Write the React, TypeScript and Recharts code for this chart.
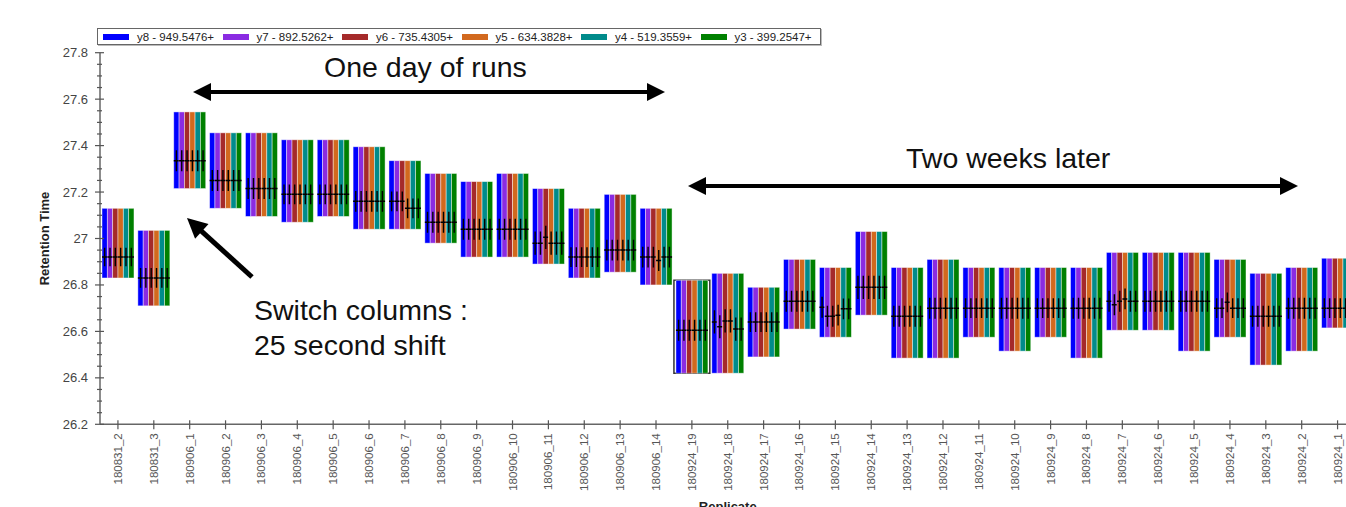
import { BarChart, Bar, XAxis, YAxis, ReferenceArea } from "recharts";

const FONT = "Arial, 'Liberation Sans', sans-serif";

// Replicate names, in acquisition order as plotted.
const replicates = [
  "180831_2", "180831_3",
  "180906_1", "180906_2", "180906_3", "180906_4", "180906_5", "180906_6", "180906_7",
  "180906_8", "180906_9", "180906_10", "180906_11", "180906_12", "180906_13", "180906_14",
  "180924_19", "180924_18", "180924_17", "180924_16", "180924_15", "180924_14", "180924_13",
  "180924_12", "180924_11", "180924_10", "180924_9", "180924_8", "180924_7", "180924_6",
  "180924_5", "180924_4", "180924_3", "180924_2", "180924_1",
];

// Integration boundaries (min) shared by all transitions of a replicate.
const peakStart = [
  26.83, 26.71, 27.215, 27.13, 27.095, 27.07, 27.095, 27.04, 27.04, 26.98, 26.92, 26.92,
  26.89, 26.83, 26.855, 26.8, 26.42, 26.42, 26.49, 26.61, 26.575, 26.67, 26.485, 26.485,
  26.575, 26.515, 26.575, 26.485, 26.605, 26.605, 26.515, 26.575, 26.455, 26.515, 26.615,
];
const peakEnd = [
  27.13, 27.035, 27.545, 27.455, 27.455, 27.425, 27.425, 27.395, 27.335, 27.28, 27.245, 27.28,
  27.215, 27.13, 27.19, 27.13, 26.82, 26.85, 26.79, 26.91, 26.875, 27.03, 26.875, 26.91,
  26.875, 26.875, 26.875, 26.875, 26.94, 26.94, 26.94, 26.91, 26.85, 26.875, 26.915,
];
// Full width at half max, drawn as the whisker through each apex.
const fwhm = [
  0.08, 0.085, 0.09, 0.09, 0.09, 0.085, 0.085, 0.09, 0.085, 0.09, 0.09, 0.09,
  0.1, 0.085, 0.09, 0.09, 0.09, 0.1, 0.085, 0.09, 0.09, 0.1, 0.09, 0.09,
  0.085, 0.09, 0.085, 0.09, 0.09, 0.09, 0.09, 0.085, 0.09, 0.09, 0.085,
];

// Apex retention time per transition.
const apexY8 = [
  26.92, 26.83, 27.335, 27.25, 27.215, 27.19, 27.19, 27.16, 27.16, 27.07, 27.04, 27.04,
  26.98, 26.92, 26.95, 26.92, 26.605, 26.641, 26.64, 26.73, 26.704, 26.79, 26.665, 26.7,
  26.7, 26.7, 26.7, 26.7, 26.73, 26.73, 26.73, 26.7, 26.665, 26.7, 26.7,
];
const apexY7 = [
  26.92, 26.83, 27.335, 27.25, 27.215, 27.19, 27.19, 27.16, 27.16, 27.07, 27.04, 27.04,
  26.98, 26.92, 26.95, 26.92, 26.605, 26.62, 26.64, 26.73, 26.665, 26.79, 26.665, 26.7,
  26.7, 26.7, 26.7, 26.7, 26.715, 26.73, 26.73, 26.7, 26.665, 26.7, 26.7,
];
const apexY6 = [
  26.92, 26.83, 27.335, 27.25, 27.215, 27.19, 27.19, 27.16, 27.16, 27.07, 27.04, 27.04,
  27.005, 26.92, 26.95, 26.92, 26.605, 26.645, 26.64, 26.73, 26.665, 26.79, 26.665, 26.7,
  26.7, 26.7, 26.7, 26.7, 26.73, 26.73, 26.73, 26.725, 26.665, 26.7, 26.7,
];
const apexY5 = [
  26.92, 26.83, 27.335, 27.25, 27.215, 27.19, 27.19, 27.16, 27.13, 27.07, 27.04, 27.04,
  26.98, 26.92, 26.95, 26.905, 26.605, 26.645, 26.64, 26.73, 26.67, 26.79, 26.665, 26.7,
  26.7, 26.7, 26.7, 26.7, 26.74, 26.73, 26.73, 26.7, 26.665, 26.7, 26.7,
];
const apexY4 = [
  26.92, 26.83, 27.335, 27.25, 27.215, 27.19, 27.19, 27.16, 27.13, 27.07, 27.04, 27.04,
  26.98, 26.92, 26.95, 26.92, 26.605, 26.61, 26.64, 26.73, 26.697, 26.79, 26.665, 26.7,
  26.7, 26.7, 26.7, 26.7, 26.73, 26.73, 26.73, 26.7, 26.665, 26.7, 26.7,
];
const apexY3 = [
  26.92, 26.83, 27.335, 27.25, 27.215, 27.19, 27.19, 27.16, 27.13, 27.07, 27.04, 27.04,
  26.98, 26.92, 26.95, 26.92, 26.605, 26.61, 26.64, 26.73, 26.697, 26.79, 26.665, 26.7,
  26.7, 26.7, 26.7, 26.7, 26.73, 26.73, 26.73, 26.7, 26.665, 26.7, 26.7,
];

const series = [
  { key: "y8", label: "y8 - 949.5476+", color: "#0000ff", apex: apexY8 },
  { key: "y7", label: "y7 - 892.5262+", color: "#8a2be2", apex: apexY7 },
  { key: "y6", label: "y6 - 735.4305+", color: "#a52a2a", apex: apexY6 },
  { key: "y5", label: "y5 - 634.3828+", color: "#d2691e", apex: apexY5 },
  { key: "y4", label: "y4 - 519.3559+", color: "#008b8b", apex: apexY4 },
  { key: "y3", label: "y3 - 399.2547+", color: "#008000", apex: apexY3 },
];

const majorTicks = [26.2, 26.4, 26.6, 26.8, 27, 27.2, 27.4, 27.6, 27.8];
const allTicks = [
  26.2, 26.25, 26.3, 26.35, 26.4, 26.45, 26.5, 26.55, 26.6, 26.65, 26.7, 26.75, 26.8,
  26.85, 26.9, 26.95, 27, 27.05, 27.1, 27.15, 27.2, 27.25, 27.3, 27.35, 27.4, 27.45,
  27.5, 27.55, 27.6, 27.65, 27.7, 27.75, 27.8,
];

const selected = 16;

const rows = replicates.map((name, i) => {
  const row: Record<string, any> = { name, lo: peakStart[i], hi: peakEnd[i], fwhm: fwhm[i] };
  series.forEach((s) => (row[s.key] = s.apex[i]));
  return row;
});

// One coloured stripe per transition, with apex tick and FWHM whisker.
const stripe = (key: string, color: string) => (props: any) => {
  const { x, y, width, height, payload } = props;
  const top = Math.min(y, y + height);
  const h = Math.abs(height);
  const toY = (v: number) => top + ((payload.hi - v) / (payload.hi - payload.lo)) * h;
  const apex = payload[key];
  const half = payload.fwhm / 2;
  const cx = x + width / 2;
  return (
    <g>
      <rect x={x} y={top} width={width} height={h} fill={color} stroke="#ffffff" strokeOpacity={0.55} strokeWidth={0.8} />
      <line x1={x} x2={x + width} y1={toY(apex)} y2={toY(apex)} stroke="#000" strokeWidth={1.5} />
      <line x1={cx} x2={cx} y1={toY(apex + half)} y2={toY(apex - half)} stroke="#000" strokeWidth={1.4} />
    </g>
  );
};

const YTick = (props: any) => {
  const { x, y, payload } = props;
  const major = majorTicks.includes(payload.value);
  return (
    <g>
      <line x1={major ? x - 5 : x - 3} x2={major ? x + 4 : x + 2} y1={y} y2={y} stroke="#555" strokeWidth={1.2} />
      {major && (
        <text x={x - 12} y={y} textAnchor="end" dominantBaseline="central" fontSize={13} fill="#444" fontFamily={FONT}>
          {String(payload.value)}
        </text>
      )}
    </g>
  );
};

const XTick = (props: any) => {
  const { x, y, payload } = props;
  const ty = y + 9;
  return (
    <g>
      <line x1={x} x2={x} y1={y - 4} y2={y + 5} stroke="#555" strokeWidth={1.2} />
      <text
        x={x}
        y={ty}
        transform={`rotate(-90, ${x}, ${ty})`}
        textAnchor="end"
        dominantBaseline="central"
        fontSize={11.5}
        fill="#555"
        fontFamily={FONT}
      >
        {payload.value}
      </text>
    </g>
  );
};

const YTitle = (props: any) => {
  const { viewBox } = props;
  const cx = viewBox.x + 44;
  const cy = viewBox.y + viewBox.height / 2;
  return (
    <text x={cx} y={cy} transform={`rotate(-90, ${cx}, ${cy})`} textAnchor="middle" dominantBaseline="central"
      fontSize={13} fontWeight="bold" fill="#222" fontFamily={FONT}>
      Retention Time
    </text>
  );
};

const XTitle = (props: any) => {
  const { viewBox } = props;
  return (
    <text x={viewBox.x + viewBox.width / 2} y={viewBox.y + 87} textAnchor="middle" fontSize={13} fontWeight="bold"
      fill="#222" fontFamily={FONT}>
      Replicate
    </text>
  );
};

function Arrow({ from, to, both = false, w = 4, hl = 18, hw = 9 }: any) {
  const [x1, y1] = from;
  const [x2, y2] = to;
  const L = Math.hypot(x2 - x1, y2 - y1);
  const ux = (x2 - x1) / L;
  const uy = (y2 - y1) / L;
  const nx = -uy;
  const ny = ux;
  const head = (tx: number, ty: number, dx: number, dy: number) =>
    `${tx},${ty} ${tx - dx * hl + nx * hw},${ty - dy * hl + ny * hw} ${tx - dx * hl - nx * hw},${ty - dy * hl - ny * hw}`;
  const sx = both ? x1 + ux * hl * 0.9 : x1;
  const sy = both ? y1 + uy * hl * 0.9 : y1;
  return (
    <g fill="#000">
      <line x1={sx} y1={sy} x2={x2 - ux * hl * 0.9} y2={y2 - uy * hl * 0.9} stroke="#000" strokeWidth={w} />
      <polygon points={head(x2, y2, ux, uy)} />
      {both && <polygon points={head(x1, y1, -ux, -uy)} />}
    </g>
  );
}

function Legend() {
  return (
    <div
      style={{
        position: "absolute",
        left: 97,
        top: 28,
        width: 724,
        height: 17,
        border: "1px solid #666",
        boxShadow: "1px 1px 0 #bbb",
        background: "#fff",
        display: "flex",
        alignItems: "center",
        paddingLeft: 5,
        boxSizing: "border-box",
        fontFamily: FONT,
        fontSize: 11.5,
        color: "#222",
      }}
    >
      {series.map((s) => (
        <div key={s.key} style={{ width: 120.3, display: "flex", alignItems: "center", whiteSpace: "nowrap" }}>
          <span style={{ display: "inline-block", width: 26, height: 6, background: s.color, marginRight: 8 }} />
          {s.label}
        </div>
      ))}
    </div>
  );
}

function Notes() {
  const t = { fontFamily: FONT, fontSize: 28.5, fill: "#111" } as const;
  return (
    <svg width={1346} height={507} style={{ position: "absolute", left: 0, top: 0, pointerEvents: "none" }}>
      <text x={324} y={77} {...t}>One day of runs</text>
      <Arrow from={[193, 92]} to={[665, 92]} both />
      <text x={906} y={168} {...t}>Two weeks later</text>
      <Arrow from={[688, 186]} to={[1298, 186]} both />
      <Arrow from={[252, 277]} to={[187, 218]} w={5} hl={20} hw={10} />
      <text x={254} y={320} {...t}>Switch columns :</text>
      <text x={254} y={355} {...t}>25 second shift</text>
    </svg>
  );
}

export default function App() {
  return (
    <div style={{ position: "fixed", left: 0, top: 0, width: 1346, height: 507, overflow: "hidden", background: "#fff" }}>
      <BarChart
        width={1400}
        height={520}
        data={rows}
        margin={{ top: 52.7, right: 44.5, bottom: 0, left: 0 }}
        barGap={0}
        barCategoryGap={2}
      >
        <XAxis
          dataKey="name"
          type="category"
          interval={0}
          height={95.7}
          tickLine={false}
          tickSize={0}
          tickMargin={0}
          tick={<XTick />}
          axisLine={{ stroke: "#666", strokeWidth: 1.5 }}
          label={<XTitle />}
        />
        <YAxis
          type="number"
          domain={[26.2, 27.8]}
          ticks={allTicks}
          interval={0}
          width={100}
          tickLine={false}
          tickSize={0}
          tickMargin={0}
          tick={<YTick />}
          allowDataOverflow
          axisLine={{ stroke: "#666", strokeWidth: 1.5 }}
          label={<YTitle />}
        />
        {series.map((s) => (
          <Bar
            key={s.key}
            name={s.label}
            dataKey={(d: any) => [d.lo, d.hi]}
            barSize={5.33}
            shape={stripe(s.key, s.color)}
            isAnimationActive={false}
          />
        ))}
        <ReferenceArea
          x1={replicates[selected]}
          x2={replicates[selected]}
          y1={peakStart[selected]}
          y2={peakEnd[selected]}
          fill="none"
          stroke="#333"
          strokeWidth={1.5}
        />
      </BarChart>
      <Legend />
      <Notes />
    </div>
  );
}
